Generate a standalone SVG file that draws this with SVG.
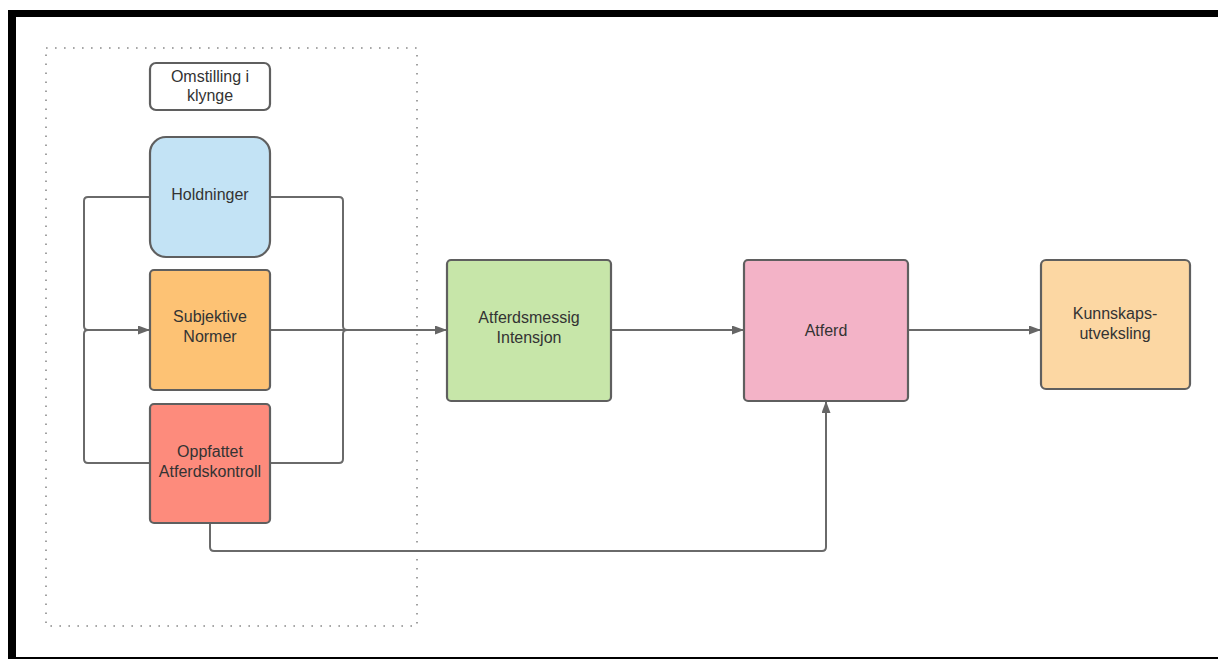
<svg xmlns="http://www.w3.org/2000/svg" width="1218" height="659" viewBox="0 0 1218 659">
<style>
.box{stroke:#5f5f5f;stroke-width:2.2}
.lbl{font-family:"Liberation Sans",Arial,sans-serif;font-size:16px;fill:#333;text-anchor:middle}
.con{fill:none;stroke:#6a6a6a;stroke-width:2}
</style>
<defs>
<marker id="arr" markerUnits="userSpaceOnUse" markerWidth="13" markerHeight="10" refX="12" refY="4.5" orient="auto">
<path d="M0,0 L12,4.5 L0,9 z" fill="#666"/>
</marker>
</defs>
<rect x="0" y="0" width="1218" height="659" fill="#fff"/>
<g id="frame">
<rect x="8" y="10" width="1210" height="7" fill="#000"/>
<rect x="8" y="10" width="8" height="649" fill="#000"/>
<rect x="8" y="657" width="1210" height="2" fill="#000"/>
</g>
<g id="group-box">
<rect x="46" y="48" width="371" height="578" fill="none" stroke="#8a8a8a" stroke-width="1.6" stroke-dasharray="1.6 7.4"/>
</g>
<g id="connectors">
<path class="con" d="M150,197 H88 Q84,197 84,201 V326 Q84,330 88,330 H150" marker-end="url(#arr)"/>
<path class="con" d="M150,463 H88 Q84,463 84,459 V334 Q84,330 88,330"/>
<path class="con" d="M270,197 H339 Q343,197 343,201 V326 Q343,330 347,330"/>
<path class="con" d="M270,463 H339 Q343,463 343,459 V334 Q343,330 347,330"/>
<path class="con" d="M270,330 H447" marker-end="url(#arr)"/>
<path class="con" d="M611,330 H744" marker-end="url(#arr)"/>
<path class="con" d="M908,330 H1041" marker-end="url(#arr)"/>
<path class="con" d="M210,523 V547 Q210,551 214,551 H822 Q826,551 826,547 V401" marker-end="url(#arr)"/>
</g>
<g id="omstilling">
<rect class="box" x="150" y="63" width="120" height="47" rx="6" fill="#fff"/>
<text class="lbl" x="210" y="82">Omstilling i</text>
<text class="lbl" x="210" y="101">klynge</text>
</g>
<g id="holdninger">
<rect class="box" x="150" y="137" width="120" height="120" rx="16" fill="#c3e3f5"/>
<text class="lbl" x="210" y="200">Holdninger</text>
</g>
<g id="subjektive">
<rect class="box" x="150" y="270" width="120" height="120" rx="4" fill="#fdc274"/>
<text class="lbl" x="210" y="322">Subjektive</text>
<text class="lbl" x="210" y="342">Normer</text>
</g>
<g id="oppfattet">
<rect class="box" x="150" y="404" width="120" height="119" rx="4" fill="#fd8b7c"/>
<text class="lbl" x="210" y="457">Oppfattet</text>
<text class="lbl" x="210" y="477">Atferdskontroll</text>
</g>
<g id="intensjon">
<rect class="box" x="447" y="260" width="164" height="141" rx="4" fill="#c7e6a9"/>
<text class="lbl" x="529" y="323">Atferdsmessig</text>
<text class="lbl" x="529" y="343">Intensjon</text>
</g>
<g id="atferd">
<rect class="box" x="744" y="260" width="164" height="141" rx="4" fill="#f3b3c7"/>
<text class="lbl" x="826" y="336">Atferd</text>
</g>
<g id="kunnskap">
<rect class="box" x="1041" y="260" width="149" height="129" rx="5" fill="#fcd7a3"/>
<text class="lbl" x="1115" y="319">Kunnskaps-</text>
<text class="lbl" x="1115" y="339">utveksling</text>
</g>
</svg>
